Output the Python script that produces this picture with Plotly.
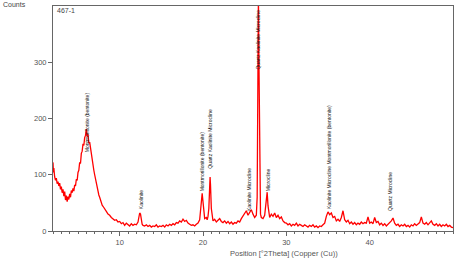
import plotly.graph_objects as go

# ---- data ----
two_theta = [2.0, 2.05, 2.1, 2.2, 2.3, 2.4, 2.5, 2.6, 2.7, 2.8, 2.9, 3.0, 3.1, 3.2, 3.3, 3.4, 3.5, 3.6, 3.7, 3.8, 3.9,
             4.0, 4.1, 4.2, 4.3, 4.4, 4.5, 4.6, 4.7, 4.8, 4.9, 5.0, 5.1, 5.2, 5.3, 5.4, 5.5, 5.6, 5.7, 5.8, 5.9,
             6.0, 6.1, 6.2, 6.3, 6.4, 6.5, 6.6, 6.7, 6.8, 6.9, 7.0, 7.1, 7.2, 7.3, 7.4, 7.5, 7.6, 7.7, 7.8, 7.9,
             8.0, 8.2, 8.4, 8.6, 8.8, 9.0, 9.2, 9.4, 9.6, 9.8, 10.0, 10.2, 10.4, 10.6, 10.8, 11.0, 11.2, 11.4,
             11.6, 11.8, 12.0, 12.2, 12.3, 12.4, 12.5, 12.6, 12.7, 12.8, 13.0, 13.2, 13.4, 13.6, 13.8, 14.0,
             14.2, 14.4, 14.6, 14.8, 15.0, 15.2, 15.4, 15.6, 15.8, 16.0, 16.2, 16.4, 16.6, 16.8, 17.0, 17.2,
             17.4, 17.6, 17.8, 18.0, 18.2, 18.4, 18.6, 18.8, 19.0, 19.2, 19.4, 19.6, 19.7, 19.8, 19.9, 20.0,
             20.1, 20.2, 20.4, 20.5, 20.6, 20.7, 20.8, 20.85, 20.9, 21.0, 21.1, 21.2, 21.4, 21.6, 21.8, 22.0,
             22.2, 22.4, 22.6, 22.8, 23.0, 23.2, 23.4, 23.6, 23.8, 24.0, 24.2, 24.4, 24.6, 24.8, 25.0, 25.2,
             25.4, 25.6, 25.8, 26.0, 26.2, 26.4, 26.5, 26.6, 26.65, 26.7, 26.8, 26.9, 27.0, 27.2, 27.4, 27.5,
             27.6, 27.7, 27.8, 27.9, 28.0, 28.2, 28.4, 28.6, 28.8, 29.0, 29.2, 29.4, 29.6, 29.8, 30.0, 30.2,
             30.4, 30.6, 30.8, 31.0, 31.2, 31.4, 31.6, 31.8, 32.0, 32.2, 32.4, 32.6, 32.8, 33.0, 33.2, 33.4,
             33.6, 33.8, 34.0, 34.2, 34.4, 34.6, 34.8, 35.0, 35.2, 35.4, 35.6, 35.8, 36.0, 36.2, 36.4, 36.6,
             36.8, 37.0, 37.2, 37.4, 37.6, 37.8, 38.0, 38.2, 38.4, 38.6, 38.8, 39.0, 39.2, 39.4, 39.6, 39.8,
             40.0, 40.2, 40.4, 40.6, 40.8, 41.0, 41.2, 41.4, 41.6, 41.8, 42.0, 42.2, 42.4, 42.6, 42.8, 43.0,
             43.2, 43.4, 43.6, 43.8, 44.0, 44.2, 44.4, 44.6, 44.8, 45.0, 45.2, 45.4, 45.6, 45.8, 46.0, 46.2,
             46.4, 46.6, 46.8, 47.0, 47.2, 47.4, 47.6, 47.8, 48.0, 48.2, 48.4, 48.6, 48.8, 49.0, 49.2, 49.4,
             49.6, 49.8, 50.0]
counts = [122, 104, 112, 96, 90, 94, 84, 88, 80, 85, 74, 79, 68, 74, 62, 70, 55, 63, 52, 61, 56,
          66, 60, 72, 68, 76, 71, 82, 80, 92, 90, 104, 108, 122, 120, 138, 142, 155, 152, 166, 170,
          181, 168, 172, 156, 158, 146, 140, 132, 118, 108, 100, 92, 86, 78, 72, 64, 60, 54, 50, 46,
          44, 38, 35, 30, 28, 24, 22, 19, 20, 16, 17, 13, 15, 10, 14, 11, 9, 13,
          10, 12, 11, 16, 22, 32, 30, 20, 12, 10, 9, 11, 8, 10, 7, 9,
          8, 11, 7, 9, 8, 10, 7, 11, 9, 12, 10, 13, 11, 15, 14, 18,
          16, 21, 17, 19, 14, 12, 10, 11, 9, 12, 14, 20, 34, 55, 67, 52,
          30, 22, 24, 20, 26, 40, 78, 96, 82, 40, 22, 18, 21, 16, 19, 22,
          17, 15, 18, 14, 17, 13, 16, 12, 15, 14, 18, 16, 22, 26, 30, 36,
          28, 34, 38, 30, 24, 28, 60, 300, 420, 320, 80, 30, 24, 22, 28, 40,
          62, 69, 45, 28, 24, 30, 26, 32, 24, 28, 22, 25, 18, 15, 14, 11,
          13, 9, 12, 10, 14, 9, 12, 10, 8, 11, 9, 7, 10, 8, 11, 7,
          9, 6, 9, 8, 11, 14, 26, 34, 29, 32, 24, 26, 18, 21, 17, 24,
          36, 20, 16, 19, 13, 16, 12, 15, 11, 14, 12, 16, 13, 15, 14, 25,
          14, 16, 13, 24, 15, 17, 11, 14, 10, 13, 9, 12, 15, 18, 23, 14,
          10, 12, 8, 11, 9, 12, 8, 10, 7, 11, 9, 13, 10, 12, 15, 25,
          14, 12, 15, 11, 14, 18, 12, 10, 13, 9, 12, 8, 11, 9, 12, 8,
          10, 7, 6]

peak_pos = [6.0, 12.5, 19.9, 20.9, 25.6, 26.65, 27.75, 35.1, 42.5]
peak_label_base = [139, 37, 69, 108, 34, 286, 69, 37, 34]
peak_names = ["Montmorillonite (bentonite)", "Kaolinite", "Montmorillonite (bentonite)",
              "Quartz Kaolinite Microcline", "Kaolinite Microcline", "Quartz Kaolinite Microcline",
              "Microcline", "Kaolinite Microcline Montmorillonite (bentonite)", "Quartz Microcline"]

x_major = [10, 20, 30, 40]
y_major = [0, 100, 200, 300]

FONT = "Liberation Sans, Arial, sans-serif"

fig = go.Figure()
fig.add_trace(go.Scatter(x=two_theta, y=counts, mode="lines",
                         line=dict(color="#ff0000", width=1.3), showlegend=False))

for xp, yb, name in zip(peak_pos, peak_label_base, peak_names):
    fig.add_annotation(x=xp, y=yb, xref="x", yref="y", text=name, showarrow=False,
                       textangle=-90, xanchor="center", yanchor="bottom",
                       font=dict(family=FONT, size=5, color="#111111"), borderpad=0)

fig.add_annotation(xref="paper", yref="paper", x=-0.13, y=1.005, text="Counts", showarrow=False,
                   xanchor="left", yanchor="middle", font=dict(family=FONT, size=7, color="#444444"))
fig.add_annotation(xref="paper", yref="paper", x=0.005, y=0.98, text="467-1", showarrow=False,
                   xanchor="left", yanchor="middle", font=dict(family=FONT, size=7, color="#444444"))
fig.add_annotation(xref="paper", yref="paper", x=0.5775, y=-0.1, text="Position [°2Theta] (Copper (Cu))",
                   showarrow=False, xanchor="center", yanchor="middle",
                   font=dict(family=FONT, size=7.5, color="#555555"))

fig.update_layout(
    width=474, height=259,
    margin=dict(l=53, r=21, t=6, b=28),
    paper_bgcolor="white", plot_bgcolor="white",
    xaxis=dict(range=[2, 50], tickvals=x_major, ticks="outside", ticklen=4, tickcolor="#666666",
               showgrid=False, zeroline=False, showline=True, linecolor="#666666", linewidth=1,
               mirror=True, tickfont=dict(family=FONT, size=7.5, color="#555555"),
               minor=dict(dtick=1, ticks="outside", ticklen=2, tickcolor="#666666", showgrid=False)),
    yaxis=dict(range=[0, 400], tickvals=y_major, ticks="outside", ticklen=4, tickcolor="#666666",
               showgrid=False, zeroline=False, showline=True, linecolor="#666666", linewidth=1,
               mirror=True, tickfont=dict(family=FONT, size=7.5, color="#555555")),
)

fig.write_html("out.html")
